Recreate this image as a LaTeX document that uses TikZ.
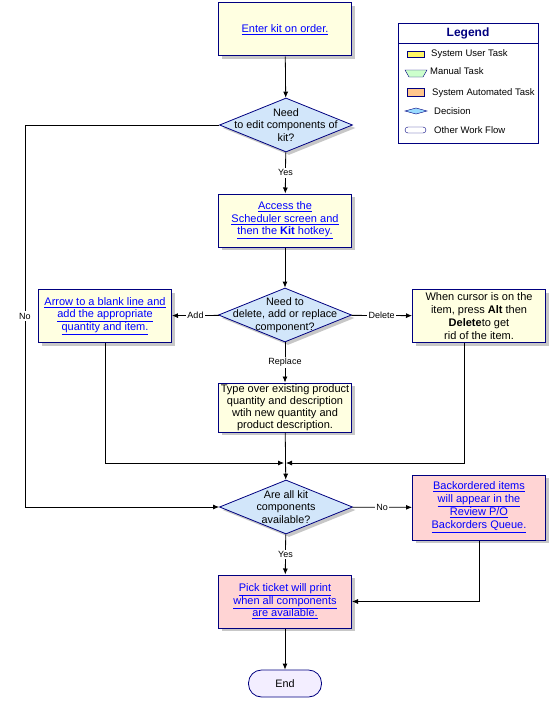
\documentclass[tikz,border=0pt]{standalone}
\usepackage{fontspec}
\setmainfont{Liberation Sans}
\usetikzlibrary{arrows.meta,shadows,shapes.geometric}
\definecolor{navy}{HTML}{000080}
\definecolor{usertaskfill}{HTML}{FFFFE1}
\definecolor{autotaskfill}{HTML}{FFD4D4}
\definecolor{decisionfill}{HTML}{D2E6FA}
\definecolor{endfill}{HTML}{F3EEFF}
\definecolor{linkblue}{HTML}{0000FF}
\newcommand{\lnk}[1]{\textcolor{linkblue}{\underline{#1}}}
\tikzset{
  boxshadow/.style={drop shadow={shadow xshift=3pt,shadow yshift=-3pt,fill=black!22,opacity=1}},
  usertask/.style={draw=navy,line width=1pt,fill=usertaskfill,boxshadow,minimum width=133,minimum height=53,
    inner sep=1,align=center,font=\fontsize{11}{12.5}\selectfont},
  autotask/.style={usertask,fill=autotaskfill},
  decision/.style={shape=diamond,draw=navy,line width=0.8pt,fill=decisionfill,boxshadow,
    minimum width=133,minimum height=54,inner sep=0},
  dtext/.style={align=center,inner sep=0,font=\fontsize{10.8}{12.5}\selectfont},
  endflow/.style={draw=navy,line width=0.8pt,fill=endfill,rounded corners=13,minimum width=73,minimum height=27,
    font=\fontsize{10.8}{12}\selectfont},
  flow/.style={draw=black,line width=0.8pt,-{Latex[length=6,width=5]}},
  lbl/.style={fill=white,inner sep=1.5,font=\fontsize{9}{10}\selectfont}
}
\begin{document}
\begin{tikzpicture}[x=1pt,y=-1pt]
\useasboundingbox[fill=white] (0,0) rectangle (550,701);

\node[usertask] (enter) at (285,29.5) {\lnk{Enter kit on order.}};
\node[decision] (editq) at (286,125) {};
\node[dtext] at (editq) {Need\\to edit components of\\kit?};
\node[usertask] (access) at (285,220.5) {\lnk{Access the}\\\lnk{Scheduler screen and}\\\lnk{then the \textbf{Kit} hotkey.}};
\node[decision] (changeq) at (285,315) {};
\node[dtext] at (changeq) {Need to\\delete, add or replace\\component?};
\node[usertask] (addline) at (105,316) {\lnk{Arrow to a blank line and}\\\lnk{add the appropriate}\\\lnk{quantity and item.}};
\node[usertask,font=\fontsize{11}{13}\selectfont] (delline) at (479,316) {When cursor is on the\\item, press \textbf{Alt} then\\\textbf{Delete}to get\\rid of the item.};
\node[usertask,minimum height=49,font=\fontsize{11}{11.8}\selectfont] (typeover) at (285,407.5) {Type over existing product\\quantity and description\\wtih new quantity and\\product description.};
\node[decision] (availq) at (286,507) {};
\node[dtext] at (availq) {Are all kit\\components\\available?};
\node[autotask,minimum height=65,font=\fontsize{11}{13}\selectfont] (backord) at (479,507.5) {\lnk{Backordered items}\\\lnk{will appear in the}\\\lnk{Review P/O}\\\lnk{Backorders Queue.}};
\node[autotask] (pick) at (285,601.5) {\lnk{Pick ticket will print}\\\lnk{when all components}\\\lnk{are available.}};
\node[endflow] (end) at (285,683.5) {End};
\coordinate (merge) at (285,463);

\draw[flow] (enter) -- (editq);
\draw[flow] (editq) -- node[lbl]{Yes} (access);
\draw[flow] (access) -- (changeq);
\draw[flow] (changeq) -- node[lbl]{Add} (addline);
\draw[flow] (changeq) -- node[lbl]{Delete} (delline);
\draw[flow] (changeq) -- node[lbl]{Replace} (typeover);
\draw[flow] (typeover) -- (availq);
\draw[flow] (addline) |- ([xshift=-1]merge);
\draw[flow] ([xshift=-15]delline.south) |- ([xshift=1]merge);
\draw[flow] (editq.west) -| node[lbl,pos=0.75]{No} (availq.west -| 25,0) -- (availq.west);
\draw[flow] (availq) -- node[lbl]{No} (backord);
\draw[flow] (availq) -- node[lbl]{Yes} (pick);
\draw[flow] (backord) |- (pick);
\draw[flow] (pick) -- (end);

% legend
\draw[navy,line width=0.8pt] (398,23) rectangle (538,143);
\draw[navy,line width=0.8pt] (398,43) -- (538,43);
\node[text=navy,font=\fontsize{12}{12}\bfseries] (legendtitle) at (468,33.5) {Legend};
\draw[navy,fill=yellow!60] (407,51) rectangle (424,57);
\draw[navy,fill=green!20] (405,70) -- (427,70) -- (423,77) -- (409,77) -- cycle;
\draw[navy,fill=orange!45] (407,88) rectangle (424,96);
\draw[navy,fill=blue!35!cyan!40] (405,111) -- (416,108) -- (427,111) -- (416,114) -- cycle;
\draw[navy,fill=white,rounded corners=3] (405,127) rectangle (426,133);
\begin{scope}[every node/.style={anchor=west,inner sep=0,font=\fontsize{9.5}{10}\selectfont}]
\node (lgusr) at (431,54) {System User Task};
\node (lgman) at (430,71.5) {Manual Task};
\node (lgauto) at (432,93) {System Automated Task};
\node (lgdec) at (434,111) {Decision};
\node (lgoth) at (434,130) {Other Work Flow};
\end{scope}
\end{tikzpicture}
\end{document}
